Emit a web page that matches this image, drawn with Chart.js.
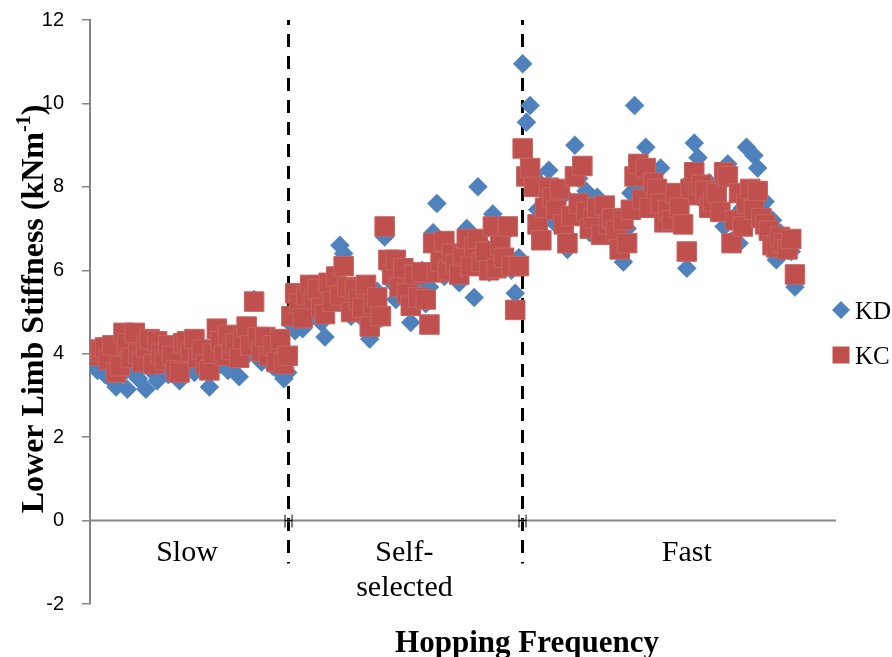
<!DOCTYPE html>
<html>
<head>
<meta charset="utf-8">
<script src="https://cdn.jsdelivr.net/npm/chart.js@4.4.0/dist/chart.umd.min.js"></script>
<style>
  html, body { margin: 0; padding: 0; background: #ffffff; }
  canvas { display: block; }
</style>
</head>
<body>
<canvas id="chart" width="892" height="657"></canvas>
<script>
// Hopping sessions, in trial order
const sessionLabels = [['Slow'], ['Self-', 'selected'], ['Fast']];
const yTickValues = [-2, 0, 2, 4, 6, 8, 10, 12];

// Lower limb stiffness (kN/m) per hop — KD series
const kdSlow = [
  3.70, 3.60, 3.85, 3.50, 3.95, 3.35, 3.20, 3.45, 3.90, 3.15,
  3.60, 4.00, 3.40, 3.75, 3.15, 3.85, 3.55, 3.35, 4.05, 3.70,
  3.50, 3.90, 3.60, 3.35, 4.00, 3.65, 3.80, 3.55, 4.10, 3.70,
  3.90, 3.20, 3.85, 4.20, 3.75, 4.00, 3.60, 4.05, 3.80, 3.45,
  4.15, 3.95, 4.30, 5.30, 4.10, 3.80, 4.20, 3.95, 3.70, 4.10,
  3.55, 3.40, 3.55
];
const kdSelf = [
  4.70, 4.55, 5.10, 4.60, 5.30, 4.85, 5.55, 5.00, 4.75, 4.40,
  5.20, 5.70, 5.45, 6.60, 6.40, 5.25, 4.90, 5.60, 5.05, 4.85,
  5.45, 4.35, 5.00, 5.50, 4.85, 6.80, 6.05, 5.70, 5.30, 6.10,
  5.55, 5.90, 4.75, 5.45, 5.80, 6.00, 5.20, 5.60, 6.90, 7.60,
  6.30, 5.85, 6.55, 6.10, 6.40, 5.70, 6.20, 7.00, 6.45, 5.35,
  8.00, 6.65, 6.30, 5.95, 7.35, 6.60, 6.15, 6.85, 6.35, 6.00,
  5.45, 6.30
];
const kdFast = [
  10.95, 9.55, 9.95, 8.30, 7.45, 8.05, 7.20, 8.40, 7.60, 7.10,
  7.85, 7.80, 6.50, 7.35, 9.00, 8.20, 8.45, 7.90, 6.90, 7.40,
  7.75, 7.05, 7.50, 6.95, 7.30, 6.80, 7.15, 6.20, 7.00, 7.85,
  9.95, 8.30, 7.95, 8.95, 7.70, 8.15, 7.55, 8.45, 7.20, 7.60,
  7.35, 7.50, 7.85, 7.25, 6.05, 8.15, 9.05, 8.70, 7.90, 7.60,
  8.10, 7.40, 7.75, 8.05, 7.05, 8.55, 6.70, 7.30, 6.65, 7.50,
  8.95, 7.80, 8.75, 8.45, 7.55, 7.65, 7.00, 7.20, 6.25, 6.90,
  6.55, 6.70, 6.45, 5.60
];

// Lower limb stiffness (kN/m) per hop — KC series
const kcSlow = [
  4.10, 3.95, 4.05, 4.15, 3.85, 4.20, 3.55, 3.70, 4.50, 4.25,
  3.90, 4.50, 4.00, 3.80, 4.15, 4.35, 3.75, 4.30, 4.00, 3.85,
  4.20, 3.95, 3.60, 3.55, 4.25, 4.30, 4.05, 4.35, 3.90, 4.10,
  3.75, 3.60, 4.00, 4.60, 4.30, 3.95, 4.45, 4.10, 4.25, 3.90,
  4.35, 4.65, 4.20, 5.25, 4.40, 4.05, 4.40, 3.95, 4.20, 3.80,
  4.35, 3.75, 3.95
];
const kcSelf = [
  4.90, 5.45, 5.20, 4.85, 5.40, 5.65, 5.30, 5.55, 5.10, 4.95,
  5.70, 5.25, 5.85, 5.40, 6.10, 5.60, 5.00, 5.55, 5.30, 5.10,
  5.65, 4.65, 5.20, 5.35, 4.90, 7.05, 6.25, 5.90, 6.25, 5.60,
  6.05, 5.45, 5.15, 5.90, 5.35, 5.95, 5.30, 4.70, 6.65, 5.95,
  6.20, 6.70, 6.00, 6.40, 6.15, 5.90, 6.35, 6.75, 6.10, 6.55,
  6.75, 6.20, 6.45, 6.00, 7.05, 6.05, 6.60, 6.30, 7.05, 6.10,
  5.05, 6.10
];
const kcFast = [
  8.92, 8.25, 8.45, 8.00, 7.10, 6.72, 7.50, 7.98, 7.75, 7.45,
  7.95, 7.10, 6.65, 7.30, 8.25, 7.60, 8.50, 7.40, 7.00, 7.25,
  7.50, 6.85, 7.55, 7.10, 7.25, 6.95, 6.50, 7.20, 6.65, 7.45,
  8.25, 8.55, 7.70, 8.45, 7.50, 8.10, 7.95, 7.60, 7.15, 7.45,
  7.20, 7.85, 7.50, 7.10, 6.45, 7.95, 8.35, 7.80, 8.05, 7.90,
  7.50, 7.65, 7.85, 7.40, 8.35, 8.25, 6.65, 7.20, 7.85, 7.05,
  7.60, 7.95, 7.45, 7.90, 7.25, 7.10, 6.95, 6.60, 6.55, 6.80,
  6.65, 6.50, 6.75, 5.90
];

// Trial numbering: hops are numbered consecutively across sessions
function toPoints(values, start) {
  return values.map((v, i) => ({ x: start + i, y: v }));
}
const slowStart = 1;
const selfStart = slowStart + kdSlow.length;
const fastStart = selfStart + kdSelf.length;

const kdPoints = [].concat(toPoints(kdSlow, slowStart), toPoints(kdSelf, selfStart), toPoints(kdFast, fastStart));
const kcPoints = [].concat(toPoints(kcSlow, slowStart), toPoints(kcSelf, selfStart), toPoints(kcFast, fastStart));

// Session divider positions (trial axis) and label centres
const dividers = [selfStart - 1, fastStart - 0.2];
const labelCentres = [26, 84.3, 160];

const AXIS_GREY = '#868686';
const SERIF = '"Liberation Serif", "Times New Roman", serif';
const SANS = '"Liberation Sans", Arial, sans-serif';

const decorations = {
  id: 'decorations',
  beforeDatasetsDraw(chart) {
    const { ctx, scales: { x, y } } = chart;
    const y0 = y.getPixelForValue(0);
    ctx.save();
    // dashed session dividers
    ctx.strokeStyle = '#000000';
    ctx.lineWidth = 3;
    ctx.setLineDash([13, 9]);
    ctx.lineDashOffset = 8;
    dividers.forEach(d => {
      const px = Math.round(x.getPixelForValue(d)) + 0.5;
      ctx.beginPath();
      ctx.moveTo(px, y.getPixelForValue(12));
      ctx.lineTo(px, y0 + 43);
      ctx.stroke();
    });
    ctx.setLineDash([]);
    // horizontal axis through zero
    ctx.strokeStyle = AXIS_GREY;
    ctx.lineWidth = 2;
    ctx.beginPath();
    ctx.moveTo(x.left, y0);
    ctx.lineTo(x.right, y0);
    ctx.stroke();
    // tick marks at the dividers
    ctx.strokeStyle = '#000000';
    ctx.lineWidth = 1;
    dividers.forEach(d => {
      const px = Math.round(x.getPixelForValue(d)) + 0.5;
      ctx.beginPath();
      ctx.moveTo(px - 3.5, y0 - 6); ctx.lineTo(px - 3.5, y0 + 7);
      ctx.moveTo(px + 3.5, y0 - 6); ctx.lineTo(px + 3.5, y0 + 7);
      ctx.moveTo(px - 3.5, y0); ctx.lineTo(px + 3.5, y0);
      ctx.stroke();
    });
    ctx.restore();
  },
  afterDraw(chart) {
    const { ctx, scales: { x, y } } = chart;
    const y0 = y.getPixelForValue(0);
    ctx.save();
    ctx.fillStyle = '#000000';
    // session names under the zero line
    ctx.font = '30px ' + SERIF;
    ctx.textAlign = 'center';
    ctx.textBaseline = 'alphabetic';
    sessionLabels.forEach((lines, i) => {
      const cx = x.getPixelForValue(labelCentres[i]);
      lines.forEach((t, j) => ctx.fillText(t, cx, y0 + 40 + j * 35));
    });
    // x-axis title
    ctx.font = 'bold 31px ' + SERIF;
    ctx.fillText('Hopping Frequency', 527, 652);
    // y-axis title with superscript unit
    const parts = [
      { t: 'Lower Limb Stiffness (kNm', f: 'bold 32px ' + SERIF, dy: 0 },
      { t: '-1', f: 'bold 20px ' + SERIF, dy: -13 },
      { t: ')', f: 'bold 32px ' + SERIF, dy: 0 }
    ];
    let total = 0;
    parts.forEach(p => { ctx.font = p.f; p.w = ctx.measureText(p.t).width; total += p.w; });
    ctx.translate(43, 309);
    ctx.rotate(-Math.PI / 2);
    ctx.textAlign = 'left';
    let cur = -total / 2;
    parts.forEach(p => { ctx.font = p.f; ctx.fillText(p.t, cur, p.dy); cur += p.w; });
    ctx.restore();

    // legend
    ctx.save();
    const lx = 841;
    ctx.font = '25px ' + SERIF;
    ctx.textBaseline = 'alphabetic';
    ctx.textAlign = 'left';
    chart.data.datasets.forEach((ds, i) => {
      const ly = 310 + i * 45;
      ctx.fillStyle = ds.backgroundColor;
      ctx.beginPath();
      if (ds.pointStyle === 'rectRot') {
        ctx.moveTo(lx, ly - 9); ctx.lineTo(lx + 9, ly); ctx.lineTo(lx, ly + 9); ctx.lineTo(lx - 9, ly);
        ctx.closePath();
      } else {
        ctx.rect(lx - 8.5, ly - 8.5, 17, 17);
      }
      ctx.fill();
      ctx.fillStyle = '#000000';
      ctx.fillText(ds.label, 855, ly + 8.5);
    });
    ctx.restore();
  }
};

new Chart(document.getElementById('chart'), {
  type: 'scatter',
  data: {
    datasets: [
      {
        label: 'KD',
        data: kdPoints,
        pointStyle: 'rectRot',
        pointRadius: 9.5,
        backgroundColor: '#4F81BD',
        borderColor: '#4A7EBB',
        borderWidth: 0.5,
        order: 2
      },
      {
        label: 'KC',
        data: kcPoints,
        pointStyle: 'rect',
        pointRadius: 13.8,
        backgroundColor: '#C0504D',
        borderColor: '#C66461',
        borderWidth: 1,
        order: 1
      }
    ]
  },
  options: {
    responsive: false,
    animation: false,
    devicePixelRatio: 1,
    layout: { padding: { left: 0, top: 20, right: 56, bottom: 53 } },
    plugins: { legend: { display: false }, tooltip: { enabled: false } },
    scales: {
      x: { type: 'linear', min: 0, max: 200, display: false },
      y: {
        type: 'linear',
        min: -2,
        max: 12,
        afterBuildTicks(scale) { scale.ticks = yTickValues.map(v => ({ value: v })); },
        afterFit(scale) {
          scale.width = 90;
          scale.paddingTop = 0;
          scale.paddingBottom = 0;
        },
        border: { display: true, color: AXIS_GREY, width: 2 },
        grid: { drawOnChartArea: false, drawTicks: true, tickLength: 8, color: AXIS_GREY, lineWidth: 1.5 },
        ticks: { font: { family: SANS, size: 20 }, color: '#000000', padding: 18 }
      }
    }
  },
  plugins: [decorations]
});
</script>
</body>
</html>
